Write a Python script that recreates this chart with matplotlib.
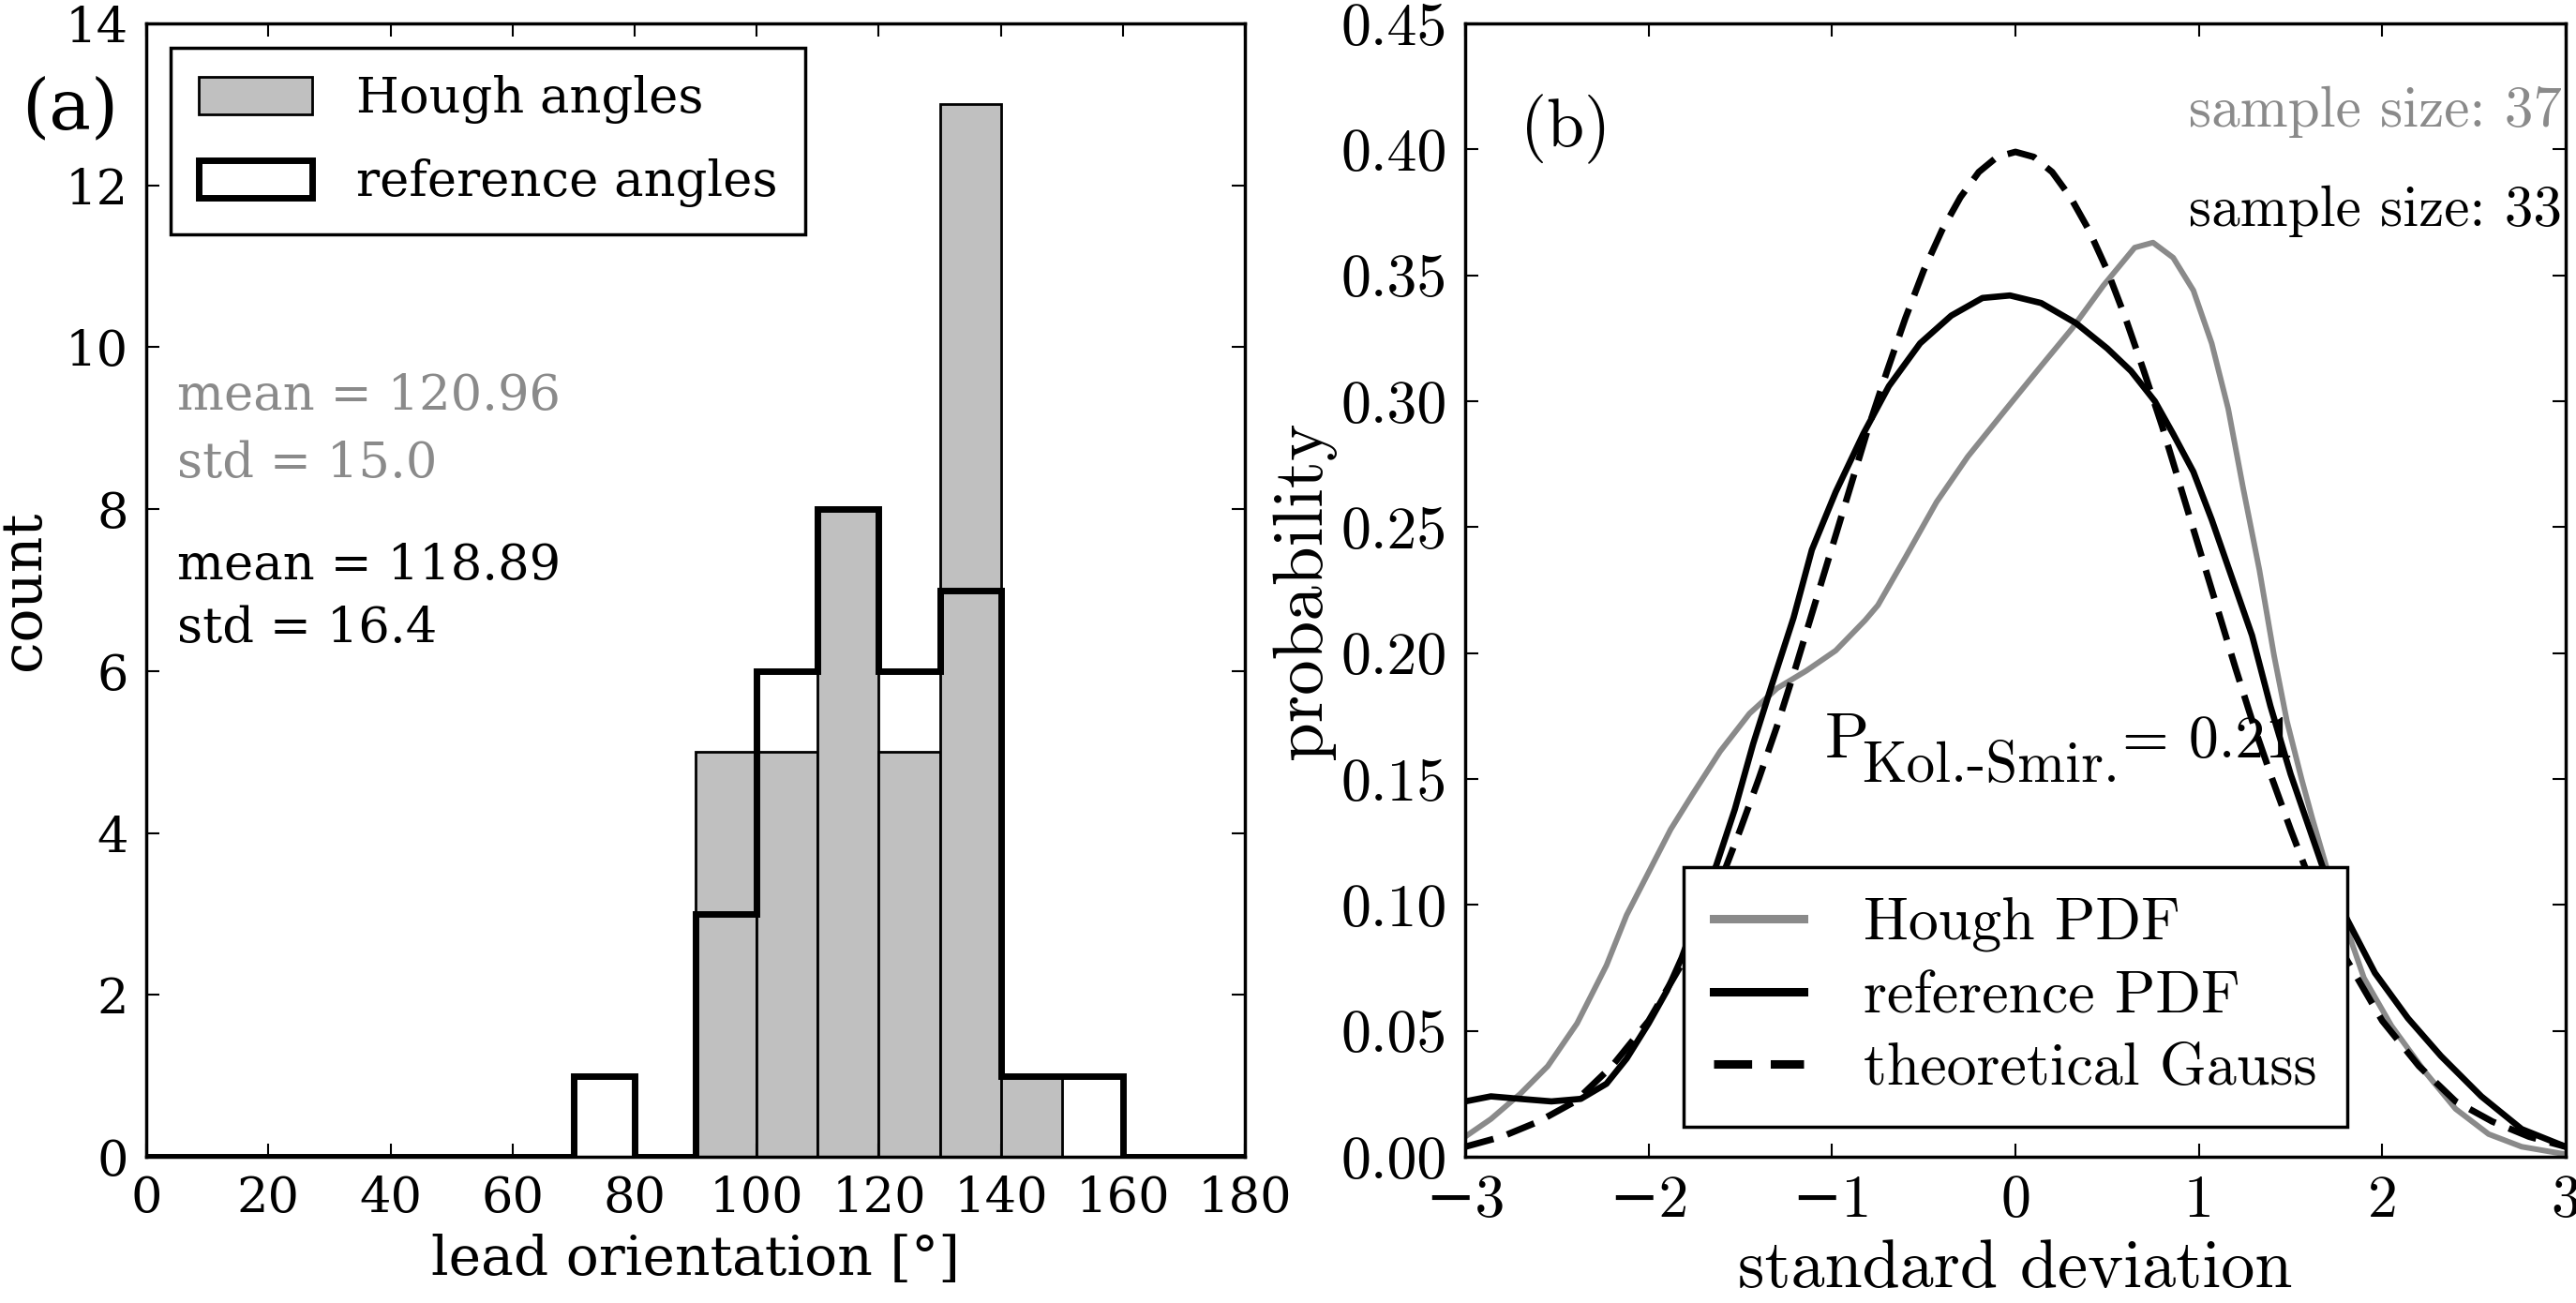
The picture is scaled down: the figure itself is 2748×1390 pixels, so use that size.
import numpy as np
import matplotlib
matplotlib.use('Agg')
import matplotlib.pyplot as plt

plt.rcParams['mathtext.fontset'] = 'cm'
plt.rcParams['font.family'] = ['DejaVu Serif']

# ---- panel (a): histogram of lead orientations ----
bin_edges = np.arange(0, 190, 10)
hough_counts = [0, 0, 0, 0, 0, 0, 0, 0, 0, 5, 5, 8, 5, 13, 1, 0, 0, 0]
ref_counts = [0, 0, 0, 0, 0, 0, 0, 1, 0, 3, 6, 8, 6, 7, 1, 1, 0, 0]
hough_stats = ['mean = 120.96', 'std = 15.0']
ref_stats = ['mean = 118.89', 'std = 16.4']

# ---- panel (b): PDFs over standard deviation ----
ref_x = [-3.00, -2.86, -2.70, -2.53, -2.37, -2.23, -2.12, -2.00, -1.90, -1.82,
         -1.72, -1.63, -1.53, -1.43, -1.33, -1.21, -1.11, -0.98, -0.83, -0.69,
         -0.52, -0.35, -0.18, -0.03, 0.14, 0.33, 0.50, 0.63, 0.76, 0.86,
         0.97, 1.07, 1.18, 1.29, 1.39, 1.50, 1.59, 1.68, 1.81, 1.96,
         2.14, 2.32, 2.54, 2.76, 3.00]
ref_pdf = [0.022, 0.024, 0.023, 0.022, 0.023, 0.029, 0.039, 0.053, 0.066, 0.079,
           0.099, 0.116, 0.138, 0.164, 0.187, 0.214, 0.241, 0.264, 0.287, 0.306,
           0.323, 0.334, 0.341, 0.342, 0.339, 0.331, 0.321, 0.312, 0.300, 0.287,
           0.272, 0.253, 0.230, 0.207, 0.179, 0.152, 0.133, 0.114, 0.094, 0.073,
           0.055, 0.040, 0.024, 0.011, 0.004]

hough_x = [-3.00, -2.86, -2.70, -2.55, -2.39, -2.23, -2.12, -2.00, -1.88, -1.76,
           -1.61, -1.45, -1.30, -1.14, -0.98, -0.82, -0.75, -0.60, -0.43, -0.26,
           -0.05, 0.14, 0.31, 0.48, 0.65, 0.75, 0.86, 0.97, 1.07, 1.16,
           1.24, 1.33, 1.41, 1.48, 1.56, 1.62, 1.70, 1.81, 1.90, 2.05,
           2.23, 2.40, 2.58, 2.76, 3.00]
hough_pdf = [0.008, 0.015, 0.025, 0.036, 0.053, 0.076, 0.096, 0.113, 0.130, 0.144,
             0.161, 0.176, 0.186, 0.193, 0.201, 0.213, 0.219, 0.238, 0.260, 0.278,
             0.297, 0.314, 0.329, 0.346, 0.361, 0.363, 0.357, 0.344, 0.323, 0.297,
             0.266, 0.233, 0.199, 0.173, 0.150, 0.134, 0.114, 0.090, 0.071, 0.052,
             0.034, 0.019, 0.009, 0.004, 0.001]

gauss_x = [-3.0, -2.8, -2.6, -2.4, -2.2, -2.0, -1.8, -1.6, -1.5, -1.4, -1.3, -1.2,
           -1.1, -1.0, -0.9, -0.8, -0.7, -0.6, -0.5, -0.4, -0.3, -0.2, -0.1,
           0.0, 0.1, 0.2, 0.3, 0.4, 0.5, 0.6, 0.7, 0.8, 0.9, 1.0, 1.1,
           1.2, 1.3, 1.4, 1.5, 1.6, 1.8, 2.0, 2.2, 2.4, 2.6, 2.8, 3.0]
gauss_pdf = [0.004, 0.008, 0.014, 0.022, 0.036, 0.054, 0.079, 0.111, 0.130, 0.150, 0.171, 0.194,
             0.218, 0.242, 0.266, 0.290, 0.312, 0.333, 0.352, 0.368, 0.381, 0.391, 0.397,
             0.399, 0.397, 0.391, 0.381, 0.368, 0.352, 0.333, 0.312, 0.290, 0.266, 0.242, 0.218,
             0.194, 0.171, 0.150, 0.130, 0.111, 0.079, 0.054, 0.036, 0.022, 0.014, 0.008, 0.004]

hough_size = 37
ref_size = 33
p_ks = 0.21

GREY_FILL = '#c0c0c0'
GREY = '#8a8a8a'
CM = ['cmr10', 'DejaVu Serif']


def style_axes(ax, size, family=None):
    ax.tick_params(which='both', direction='in', top=True, right=True,
                   length=10, width=1.5, pad=14, labelsize=size)
    for sp in ax.spines.values():
        sp.set_linewidth(2.5)
    if family:
        for lab in ax.get_xticklabels() + ax.get_yticklabels():
            lab.set_family(family)


fig = plt.figure(figsize=(27.48, 13.9), dpi=100)
ax_a = fig.add_axes([0.0568, 0.1122, 0.4265, 0.8698])
ax_b = fig.add_axes([0.5688, 0.1122, 0.4272, 0.8698])

# panel (a)
ax_a.hist(bin_edges[:-1], bins=bin_edges, weights=hough_counts, color=GREY_FILL,
          edgecolor='black', linewidth=2, label='Hough angles')
ax_a.hist(bin_edges[:-1], bins=bin_edges, weights=ref_counts, histtype='step',
          color='black', linewidth=5, label='reference angles')
ax_a.set_xlim(0, 180)
ax_a.set_ylim(0, 14)
ax_a.set_xticks(np.arange(0, 181, 20))
ax_a.set_yticks(np.arange(0, 15, 2))
style_axes(ax_a, 38)
ax_a.set_xlabel('lead orientation [°]', fontsize=42, labelpad=8)
ax_a.set_ylabel('count', fontsize=43, labelpad=11)

leg_a = ax_a.legend(loc='upper left', fontsize=38, fancybox=False, framealpha=1,
                    edgecolor='black', handlelength=2.3, handleheight=0.8,
                    labelspacing=0.7, handletextpad=0.9, borderpad=0.55)
leg_a.get_frame().set_linewidth(2.5)

ax_a.text(5, 9.23, hough_stats[0], color=GREY, fontsize=38, va='baseline')
ax_a.text(5, 8.40, hough_stats[1], color=GREY, fontsize=38, va='baseline')
ax_a.text(5, 7.13, ref_stats[0], color='black', fontsize=38, va='baseline')
ax_a.text(5, 6.36, ref_stats[1], color='black', fontsize=38, va='baseline')
fig.text(0.0084, 0.9158, '(a)', fontsize=54, ha='left', va='center')

# panel (b)
ax_b.plot(hough_x, hough_pdf, color=GREY, linewidth=4.3, label='Hough PDF')
ax_b.plot(ref_x, ref_pdf, color='black', linewidth=4.8, label='reference PDF')
ax_b.plot(gauss_x, gauss_pdf, color='black', linewidth=5, linestyle=(0, (4.5, 2.2)),
          label='theoretical Gauss')
ax_b.set_xlim(-3, 3)
ax_b.set_ylim(0, 0.45)
ax_b.set_xticks(np.arange(-3, 4, 1))
ax_b.set_yticks(np.arange(0, 0.46, 0.05))
ax_b.yaxis.set_major_formatter(matplotlib.ticker.FormatStrFormatter('%.2f'))
style_axes(ax_b, 46, CM)
ax_b.set_xlabel('standard deviation', fontsize=52, family=CM, labelpad=8)
ax_b.set_ylabel('probability', fontsize=54, family=CM, labelpad=4)

leg_b = ax_b.legend(loc='lower center', prop={'family': CM, 'size': 46},
                    fancybox=False, framealpha=1, edgecolor='black',
                    handlelength=1.5, handletextpad=1.0, labelspacing=0.3,
                    borderpad=0.5)
leg_b.get_frame().set_linewidth(2.5)
for line in leg_b.get_lines():
    line.set_linewidth(6.5)

ax_b.text(-2.70, 0.408, '(b)', fontsize=52, family=CM, va='center')
ax_b.text(2.98, 0.409, f'sample size: {hough_size}', color=GREY, fontsize=44,
          family=CM, ha='right', va='baseline')
ax_b.text(2.98, 0.3695, f'sample size: {ref_size}', color='black', fontsize=44,
          family=CM, ha='right', va='baseline')
# Kolmogorov-Smirnov p-value, subscript set as its own smaller text
ax_b.text(-1.04, 0.1585, 'P', fontsize=50, family=CM, va='baseline')
ax_b.text(-0.84, 0.1490, 'Kol.-Smir.', fontsize=44, family=CM, va='baseline')
ax_b.text(0.58, 0.1585, f'= {p_ks}', fontsize=46, family=CM, va='baseline')

fig.savefig('out.png', dpi=100)
